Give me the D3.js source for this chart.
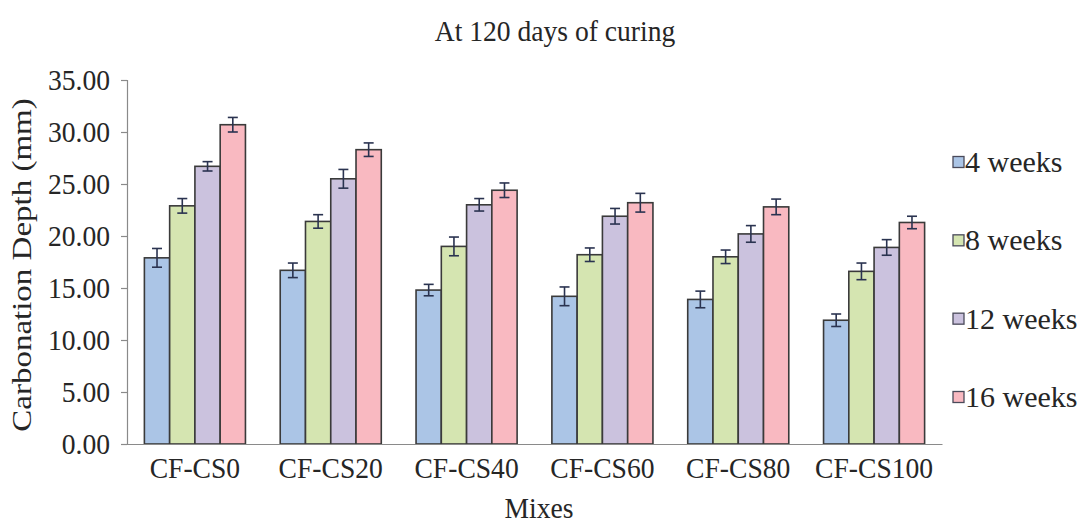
<!DOCTYPE html>
<html>
<head>
<meta charset="utf-8">
<script src="https://cdn.jsdelivr.net/npm/d3@7"></script>
<style>
  html, body { margin: 0; padding: 0; background: #fff; }
  svg { display: block; font-family: "Liberation Serif", "Times New Roman", serif; }
</style>
</head>
<body>
<svg id="chart" width="1081" height="527"></svg>
<script>
// Mixes along the x axis
const mixes = ["CF-CS0", "CF-CS20", "CF-CS40", "CF-CS60", "CF-CS80", "CF-CS100"];
// Exposure periods (one bar per period in each group)
const periods = ["4 weeks", "8 weeks", "12 weeks", "16 weeks"];
// Mean carbonation depth (mm) per period, indexed by mix
const depth4  = [17.9, 16.7, 14.8, 14.2, 13.9, 11.9];
const depth8  = [22.9, 21.4, 19.0, 18.2, 18.0, 16.6];
const depth12 = [26.7, 25.5, 23.0, 21.9, 20.2, 18.9];
const depth16 = [30.7, 28.3, 24.4, 23.2, 22.8, 21.3];
// Standard deviation (mm) per period, indexed by mix
const err4  = [0.9, 0.7, 0.55, 0.9, 0.8, 0.6];
const err8  = [0.7, 0.65, 0.9, 0.65, 0.65, 0.8];
const err12 = [0.45, 0.9, 0.6, 0.75, 0.8, 0.75];
const err16 = [0.7, 0.65, 0.7, 0.9, 0.75, 0.6];
// Y-axis tick values
const yTicks = [0, 5, 10, 15, 20, 25, 30, 35];

const values = [depth4, depth8, depth12, depth16];
const errors = [err4, err8, err12, err16];
const fills = ["#abc5e6", "#d5e5b1", "#cbc2de", "#f9b9c1"];

const FS = 30;          // text size
const SX = 0.92;        // horizontal squeeze of the serif type
const textColor = "#262626";

const svg = d3.select("#chart");
const plotLeft = 127, plotRight = 942, plotTop = 80, plotBottom = 444;

const x0 = d3.scaleBand().domain(mixes).range([plotLeft, plotRight])
  .paddingInner(0.256).paddingOuter(0.128);
const x1 = d3.scaleBand().domain(periods).range([0, x0.bandwidth()]);
const y = d3.scaleLinear().domain([0, 35]).range([plotBottom, plotTop]);

// Y axis
const yAxis = svg.append("g")
  .attr("transform", `translate(${plotLeft},0)`)
  .call(d3.axisLeft(y).tickValues(yTicks).tickFormat(d3.format(".2f"))
    .tickSizeOuter(0).tickSize(6).tickPadding(17));
yAxis.select(".domain").attr("stroke", "#8a8a8a").attr("stroke-width", 1.2);
yAxis.selectAll(".tick line").attr("stroke", "#8a8a8a").attr("stroke-width", 1.2);
yAxis.selectAll(".tick text")
  .attr("font-size", FS).attr("fill", textColor)
  .attr("font-family", "Liberation Serif, serif")
  .attr("x", -17 / SX)
  .attr("transform", `scale(${SX},1)`);

// Bars
const rows = [];
mixes.forEach((m, i) => periods.forEach((p, j) => {
  rows.push({ mix: m, period: p, v: values[j][i], e: errors[j][i], c: fills[j] });
}));

const g = svg.append("g");
g.selectAll("rect.bar").data(rows).join("rect")
  .attr("class", "bar")
  .attr("x", d => x0(d.mix) + x1(d.period))
  .attr("y", d => y(d.v))
  .attr("width", x1.bandwidth())
  .attr("height", d => y(0) - y(d.v))
  .attr("fill", d => d.c)
  .attr("stroke", "#3a3a3a")
  .attr("stroke-width", 1.6);

// Error bars
const cap = 5;
const cx = d => x0(d.mix) + x1(d.period) + x1.bandwidth() / 2;
const eb = g.selectAll("g.err").data(rows).join("g").attr("class", "err")
  .attr("stroke", "#2a3350").attr("stroke-width", 1.6);
eb.append("line")
  .attr("x1", cx).attr("x2", cx)
  .attr("y1", d => y(d.v + d.e)).attr("y2", d => y(d.v - d.e));
eb.append("line")
  .attr("x1", d => cx(d) - cap).attr("x2", d => cx(d) + cap)
  .attr("y1", d => y(d.v + d.e)).attr("y2", d => y(d.v + d.e));
eb.append("line")
  .attr("x1", d => cx(d) - cap).attr("x2", d => cx(d) + cap)
  .attr("y1", d => y(d.v - d.e)).attr("y2", d => y(d.v - d.e));

// X axis
const xAxis = svg.append("g")
  .attr("transform", `translate(0,${plotBottom})`)
  .call(d3.axisBottom(x0).tickSize(0).tickSizeOuter(0).tickPadding(13));
xAxis.select(".domain").attr("stroke", "#8a8a8a").attr("stroke-width", 1.2);
xAxis.selectAll(".tick text")
  .attr("font-size", FS).attr("fill", textColor)
  .attr("font-family", "Liberation Serif, serif")
  .attr("transform", `scale(${SX},1)`);

// Titles
const hText = (x, yy, s) => svg.append("text")
  .attr("transform", `translate(${x},${yy}) scale(${SX},1)`)
  .attr("text-anchor", "middle")
  .attr("font-size", FS).attr("fill", textColor).text(s);
hText(555, 41, "At 120 days of curing");
hText(539, 518, "Mixes");
svg.append("text")
  .attr("transform", `translate(31,265) scale(0.85,1) rotate(-90)`)
  .attr("text-anchor", "middle")
  .attr("font-size", 33).attr("fill", textColor).text("Carbonation Depth (mm)");

// Legend
const legY = d3.scalePoint().domain(periods).range([162, 397]);
const leg = svg.append("g").selectAll("g").data(periods).join("g")
  .attr("transform", d => `translate(953,${legY(d)})`);
leg.append("rect").attr("x", 0).attr("y", -5.5).attr("width", 11).attr("height", 11)
  .attr("fill", (d, i) => fills[i]).attr("stroke", "#4a4a5a").attr("stroke-width", 1.3);
leg.append("text")
  .attr("x", 12).attr("y", 10)
  .attr("font-size", FS).attr("fill", textColor).text(d => d);
</script>
</body>
</html>
